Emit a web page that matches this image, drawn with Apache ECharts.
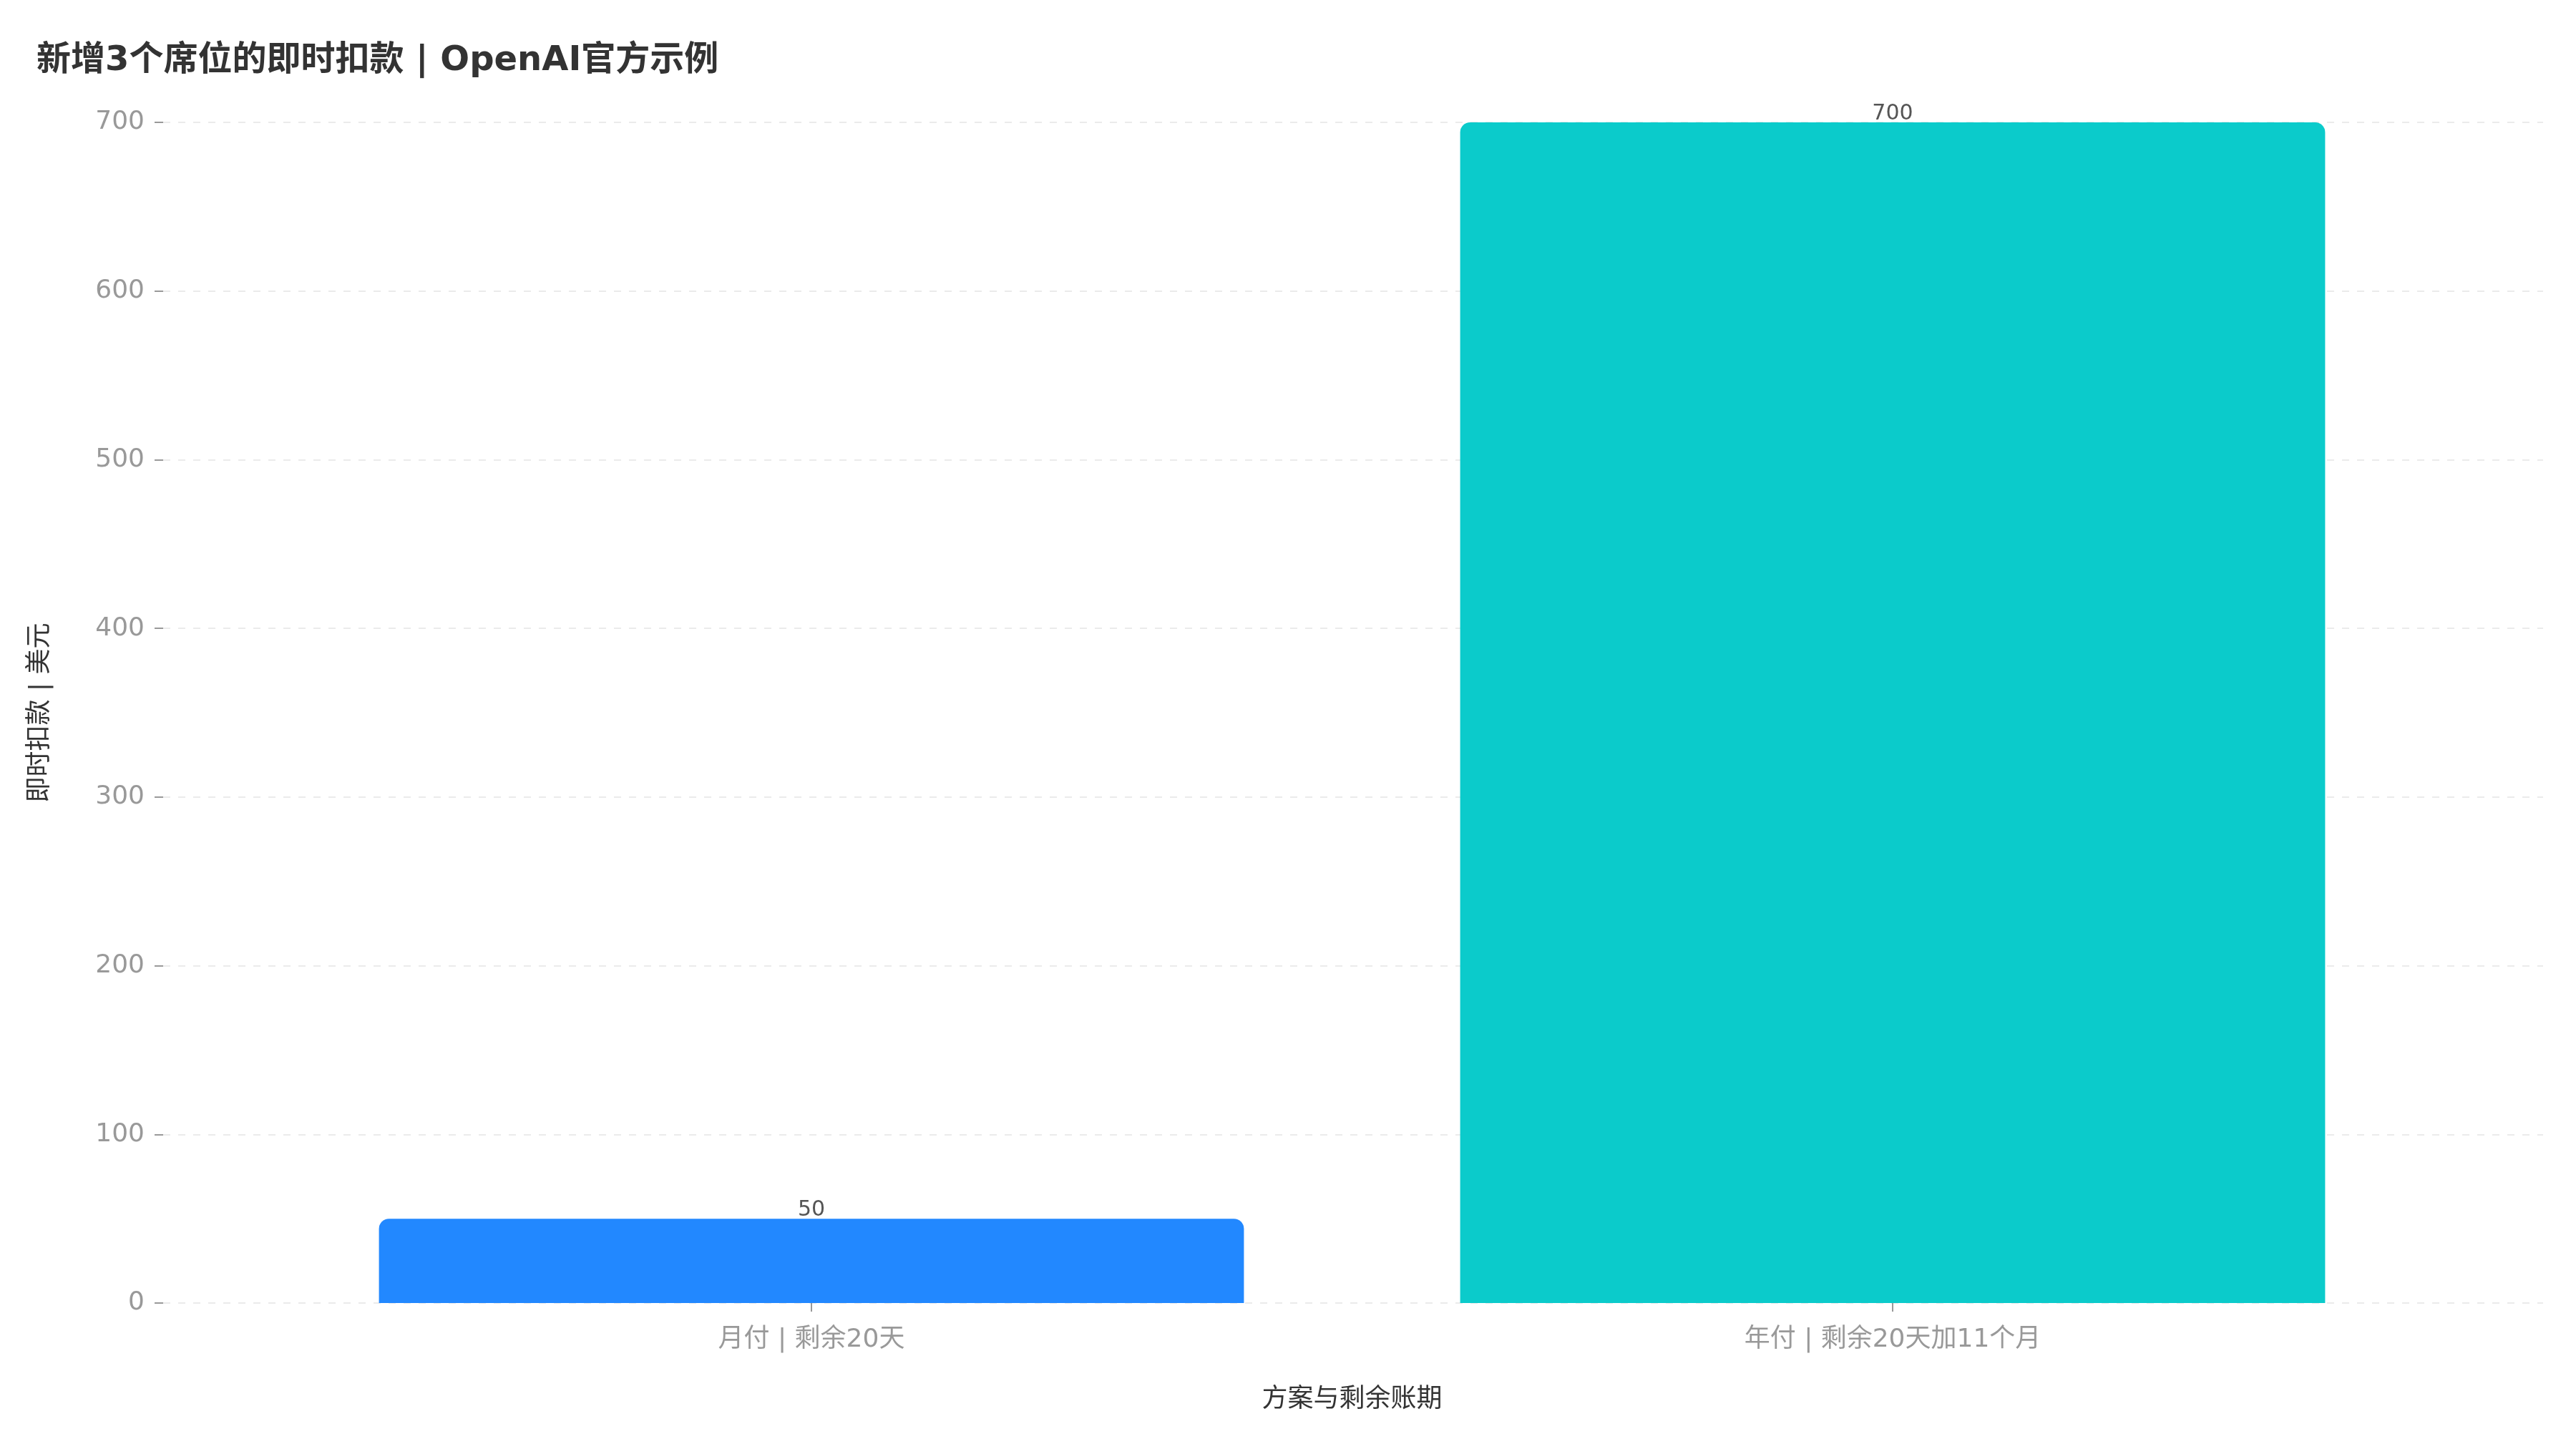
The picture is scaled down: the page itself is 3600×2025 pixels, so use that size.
<!DOCTYPE html>
<html>
<head>
<meta charset="utf-8">
<title>新增3个席位的即时扣款</title>
<script src="https://cdn.jsdelivr.net/npm/echarts@6/dist/echarts.min.js"></script>
<style>
  html, body { margin: 0; padding: 0; background: #fff; }
  #chart { width: 3600px; height: 2025px; }
</style>
</head>
<body>
<div id="chart"></div>
<script>
// 数据
var titleText = '新增3个席位的即时扣款 | OpenAI官方示例';
var categories = ['月付 | 剩余20天', '年付 | 剩余20天加11个月'];
var charges = [50, 700];
var barColors = ['#2288ff', '#0bcbcb'];
var yTicks = { min: 0, max: 700, step: 100 };
var xAxisName = '方案与剩余账期';
var yAxisName = '即时扣款 | 美元';

var FONT = '"DejaVu Sans", "Noto Sans CJK SC", sans-serif';

var chart = echarts.init(document.getElementById('chart'), null, { renderer: 'canvas' });

var barData = charges.map(function (v, i) {
  return { value: v, itemStyle: { color: barColors[i] } };
});

var option = {
  backgroundColor: '#ffffff',
  animation: false,
  textStyle: { fontFamily: FONT },
  title: {
    text: titleText,
    left: 46,
    top: 57,
    textStyle: { fontFamily: FONT, fontSize: 48, fontWeight: 'bold', color: '#333333' }
  },
  grid: [
    // 外层网格：纵轴与网格线
    { left: 228, right: 46, top: 171, bottom: 204 },
    // 内层网格：柱子与类目轴
    { left: 378.5, right: 199.5, top: 171, bottom: 204 }
  ],
  xAxis: [
    {
      gridIndex: 0, type: 'value', min: -0.6, max: 1.6,
      show: false, splitLine: { show: false }
    },
    {
      gridIndex: 1, type: 'category', data: categories,
      name: xAxisName, nameLocation: 'middle', nameGap: 118,
      nameTextStyle: { fontFamily: FONT, fontSize: 36, color: '#333333' },
      axisLine: { show: false },
      axisTick: { show: true, alignWithLabel: true, length: 12, lineStyle: { color: '#999999', width: 2 } },
      axisLabel: { fontFamily: FONT, fontSize: 36, color: '#999999', margin: 34 }
    }
  ],
  yAxis: [
    {
      gridIndex: 0, type: 'value',
      min: yTicks.min, max: yTicks.max, interval: yTicks.step,
      name: yAxisName, nameLocation: 'middle', nameRotate: 90, nameGap: 153,
      nameTextStyle: { fontFamily: FONT, fontSize: 36, color: '#333333' },
      axisLine: { show: false, onZero: false },
      axisTick: { show: true, length: 12, lineStyle: { color: '#999999', width: 2 } },
      axisLabel: { fontFamily: FONT, fontSize: 36, color: '#999999', margin: 26 },
      splitLine: { show: true, lineStyle: { color: '#ebebeb', width: 2, type: [10, 11] } }
    },
    {
      gridIndex: 1, type: 'value',
      min: yTicks.min, max: yTicks.max, interval: yTicks.step,
      show: false, splitLine: { show: false }
    }
  ],
  series: [
    {
      type: 'bar',
      xAxisIndex: 1,
      yAxisIndex: 1,
      data: barData,
      barWidth: '80%',
      itemStyle: { borderRadius: [14, 14, 0, 0] },
      label: {
        show: true, position: 'top', distance: 1, offset: [0, 4],
        fontFamily: FONT, fontSize: 30, color: '#555555'
      }
    }
  ]
};

chart.setOption(option);
</script>
</body>
</html>
